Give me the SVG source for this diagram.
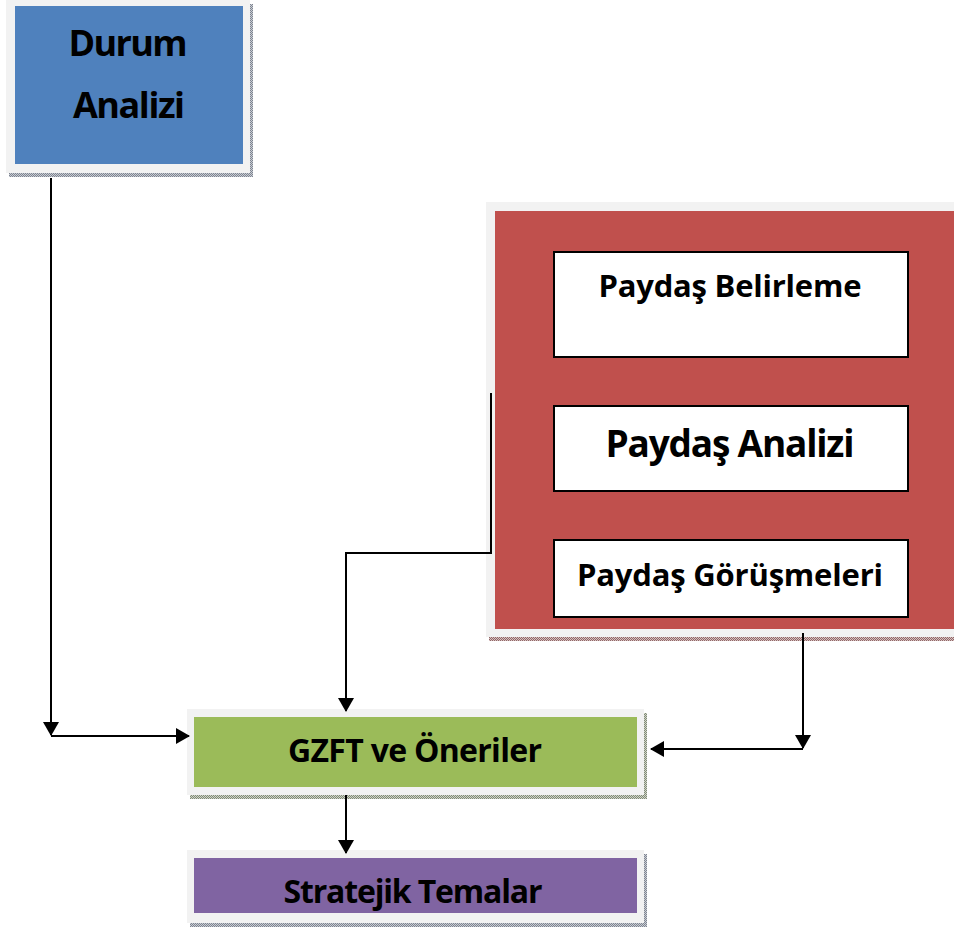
<svg xmlns="http://www.w3.org/2000/svg" width="954" height="928" viewBox="0 0 954 928">
<style>
.frame{fill:#F2F2F2}
.lbl{font-family:"Open Sans","Noto Sans","Liberation Sans",sans-serif;font-weight:bold;fill:#000;text-anchor:middle}
.inner{fill:#FFFFFF;stroke:#000;stroke-width:2}
.conn{fill:none;stroke:#000;stroke-width:2}
</style>
<defs>
<pattern id="shGray" width="2" height="2" patternUnits="userSpaceOnUse">
<rect width="2" height="2" fill="#C8CCD4"/><rect width="1" height="1" fill="#7F8590"/><rect x="1" y="1" width="1" height="1" fill="#7F8590"/>
</pattern>
<pattern id="shRed" width="2" height="2" patternUnits="userSpaceOnUse">
<rect width="2" height="2" fill="#D8C0C0"/><rect width="1" height="1" fill="#906868"/><rect x="1" y="1" width="1" height="1" fill="#906868"/>
</pattern>
<pattern id="shGreen" width="2" height="2" patternUnits="userSpaceOnUse">
<rect width="2" height="2" fill="#D0D6C4"/><rect width="1" height="1" fill="#80887A"/><rect x="1" y="1" width="1" height="1" fill="#80887A"/>
</pattern>
<marker id="arr" viewBox="0 0 14 16" refX="13" refY="8" markerWidth="14" markerHeight="16" orient="auto" markerUnits="userSpaceOnUse">
<path d="M0,0 L14,8 L0,16 z" fill="#000"/>
</marker>
</defs>

<g id="durum-analizi">
<rect x="9" y="4" width="244" height="173" fill="url(#shGray)"/>
<rect class="frame" x="6" y="0" width="244" height="173"/>
<rect x="15" y="6" width="228" height="158" fill="#4F81BD"/>
<text class="lbl" x="128" y="56" font-size="36" textLength="119">Durum</text>
<text class="lbl" x="129" y="118" font-size="36" textLength="112">Analizi</text>
</g>

<g id="paydas-grubu">
<rect x="489" y="206" width="470" height="435" fill="url(#shRed)"/>
<rect class="frame" x="486" y="202" width="470" height="435"/>
<rect x="495" y="211" width="459" height="418" fill="#C0504D"/>
<g id="paydas-belirleme">
<rect class="inner" x="554" y="252" width="354" height="105"/>
<text class="lbl" x="730" y="297" font-size="31" textLength="263">Paydaş Belirleme</text>
</g>
<g id="paydas-analizi">
<rect class="inner" x="554" y="406" width="354" height="85"/>
<text class="lbl" x="730" y="457" font-size="37" textLength="249">Paydaş Analizi</text>
</g>
<g id="paydas-gorusmeleri">
<rect class="inner" x="554" y="540" width="354" height="77"/>
<text class="lbl" x="730" y="586" font-size="31" textLength="306">Paydaş Görüşmeleri</text>
</g>
</g>

<g id="gzft">
<rect x="190" y="713" width="457" height="86" fill="url(#shGreen)"/>
<rect class="frame" x="187" y="709" width="457" height="86"/>
<rect x="194" y="717" width="443" height="70" fill="#9BBB59"/>
<text class="lbl" x="415" y="762" font-size="32" textLength="254">GZFT ve Öneriler</text>
</g>

<g id="stratejik-temalar">
<rect x="190" y="854" width="457" height="73" fill="url(#shGray)"/>
<rect class="frame" x="187" y="850" width="457" height="73"/>
<rect x="194" y="858" width="443" height="55" fill="#8064A2"/>
<text class="lbl" x="413" y="903" font-size="32" textLength="259">Stratejik Temalar</text>
</g>

<g id="connectors">
<path class="conn" d="M51 178 V735" marker-end="url(#arr)"/>
<path class="conn" d="M51 736 H189" marker-end="url(#arr)"/>
<path class="conn" d="M491 393 V553 H346 V711" marker-end="url(#arr)"/>
<path class="conn" d="M803 633 V748" marker-end="url(#arr)"/>
<path class="conn" d="M803 749 H651" marker-end="url(#arr)"/>
<path class="conn" d="M346 795 V853" marker-end="url(#arr)"/>
</g>
</svg>
